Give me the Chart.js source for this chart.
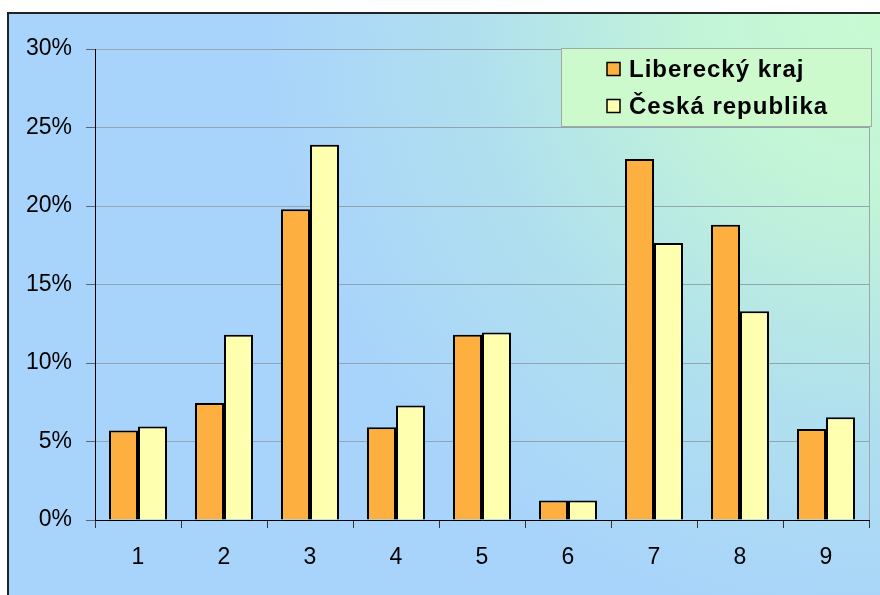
<!DOCTYPE html>
<html>
<head>
<meta charset="utf-8">
<script src="https://cdn.jsdelivr.net/npm/chart.js@4"></script>
<style>
  html, body { margin: 0; padding: 0; background: #fff; }
  #wrap { width: 880px; height: 595px; }
</style>
</head>
<body>
<div id="wrap"><canvas id="myChart" width="880" height="595"></canvas></div>
<script>
const categories = ['1', '2', '3', '4', '5', '6', '7', '8', '9'];
const liberecky = [5.7, 7.45, 19.8, 5.9, 11.8, 1.25, 23.0, 18.8, 5.8];
const ceskaRep = [5.95, 11.8, 23.9, 7.3, 11.95, 1.25, 17.65, 13.3, 6.55];
const yTicks = [0, 5, 10, 15, 20, 25, 30];

const font = '"Liberation Sans", Arial, sans-serif';

// background, outer frame and right edge of the plot area
const frame = {
  id: 'frame',
  beforeDraw(chart) {
    const ctx = chart.ctx;
    const w = chart.width, h = chart.height;
    ctx.save();
    ctx.fillStyle = '#ffffff';
    ctx.fillRect(0, 0, w, h);
    const g = ctx.createRadialGradient(w, 14, 0, w, 14, 620);
    g.addColorStop(0, '#c9fbd2');
    g.addColorStop(0.3, '#c2f4d8');
    g.addColorStop(0.65, '#b0e0ee');
    g.addColorStop(1, '#a8d4fb');
    ctx.fillStyle = g;
    ctx.fillRect(8, 13, w - 8, h - 13);
    ctx.strokeStyle = '#222';
    ctx.lineWidth = 2;
    ctx.beginPath();
    ctx.moveTo(8, h);
    ctx.lineTo(8, 13);
    ctx.lineTo(w, 13);
    ctx.stroke();
    ctx.restore();
  },
  beforeDatasetsDraw(chart) {
    const a = chart.chartArea;
    const ctx = chart.ctx;
    ctx.save();
    ctx.strokeStyle = '#9aa6b0';
    ctx.lineWidth = 1;
    ctx.beginPath();
    ctx.moveTo(a.right + 0.5, a.top);
    ctx.lineTo(a.right + 0.5, a.bottom);
    ctx.stroke();
    ctx.restore();
  }
};

// legend box in the top right corner
const boxLegend = {
  id: 'boxLegend',
  afterDraw(chart) {
    const ctx = chart.ctx;
    ctx.save();
    ctx.fillStyle = '#ccfacd';
    ctx.fillRect(561, 48, 311, 79);
    ctx.strokeStyle = '#a0aaa0';
    ctx.lineWidth = 1;
    ctx.strokeRect(561.5, 48.5, 310, 78);
    ctx.font = 'bold 24px ' + font;
    ctx.letterSpacing = '1px';
    ctx.textBaseline = 'middle';
    const rows = [69, 106];
    chart.data.datasets.forEach((ds, i) => {
      const y = rows[i];
      ctx.fillStyle = ds.backgroundColor;
      ctx.fillRect(607, y - 6.5, 13, 13);
      ctx.strokeStyle = '#000';
      ctx.lineWidth = 1.5;
      ctx.strokeRect(607, y - 6.5, 13, 13);
      ctx.fillStyle = '#000';
      ctx.fillText(ds.label, 629, y + 1);
    });
    ctx.restore();
  }
};

const data = {
  labels: categories,
  datasets: [{
    label: 'Liberecký kraj',
    data: liberecky,
    backgroundColor: '#fdb040',
    borderColor: '#000',
    borderWidth: 2,
  }, {
    label: 'Česká republika',
    data: ceskaRep,
    backgroundColor: '#ffffb0',
    borderColor: '#000',
    borderWidth: 2,
  }]
};

const config = {
  type: 'bar',
  data: data,
  plugins: [frame, boxLegend],
  options: {
    responsive: false,
    animation: false,
    categoryPercentage: 0.674,
    barPercentage: 1.0,
    layout: { padding: { left: 0, top: 49, right: 11, bottom: 0 } },
    plugins: {
      legend: { display: false },
      tooltip: { enabled: true }
    },
    scales: {
      y: {
        min: 0,
        max: 30,
        afterFit: (s) => { s.width = 95; },
        afterBuildTicks: (s) => { s.ticks = yTicks.map(v => ({ value: v })); },
        ticks: {
          padding: 14,
          color: '#000',
          font: { family: font, size: 23 },
          callback: (v) => v + '%'
        },
        grid: {
          color: '#94a3b0',
          lineWidth: 1,
          tickLength: 9,
          tickColor: '#5a6670'
        },
        border: { color: '#000', width: 1 }
      },
      x: {
        afterFit: (s) => { s.height = 75; },
        ticks: {
          padding: 16,
          color: '#000',
          font: { family: font, size: 23 }
        },
        grid: {
          offset: true,
          drawOnChartArea: false,
          tickLength: 8,
          tickColor: '#333'
        },
        border: { color: '#000', width: 1 }
      }
    }
  }
};

const myChart = new Chart(document.getElementById('myChart'), config);
</script>
</body>
</html>
